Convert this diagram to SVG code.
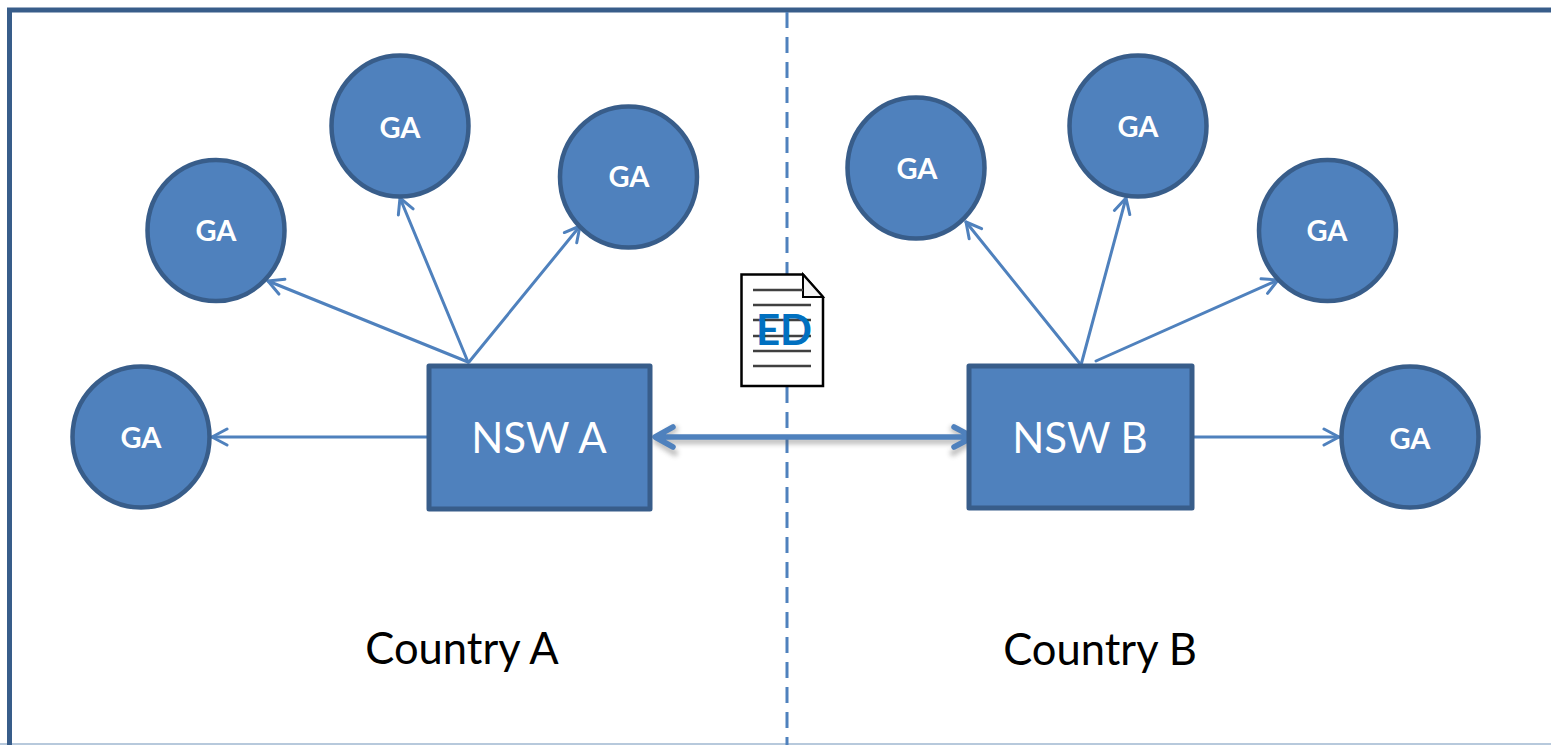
<svg xmlns="http://www.w3.org/2000/svg" width="1551" height="745" viewBox="0 0 1551 745">
<style>
.ga ellipse{fill:#4f81bd;stroke:#385d8a;stroke-width:4.500;}
.ga text{fill:#fff;font:bold 29px Lato,"Open Sans",sans-serif;text-anchor:middle}
.nsw rect{fill:#4f81bd;stroke:#385d8a;stroke-width:5;stroke-linejoin:round}
.nsw text{fill:#fff;font:42px Lato,"Open Sans",sans-serif;text-anchor:middle}
.lbl{fill:#000;font:43.500px Lato,"Open Sans",sans-serif;text-anchor:middle}
.thin{fill:none;stroke:#4f81bd;stroke-width:3;stroke-linecap:round}
.head{fill:none;stroke:#4f81bd;stroke-width:3;stroke-linecap:round;stroke-linejoin:round}
.big{fill:none;stroke:#4f81bd;stroke-width:5.500;stroke-linecap:round;stroke-linejoin:round}
.shadow{fill:none;stroke:#555;stroke-width:6;stroke-linecap:round;stroke-linejoin:round;opacity:.4;filter:url(#blur)}
.rule{stroke:#404040;stroke-width:2.400}
</style>
<defs>
<filter id="blur" x="-10%" y="-100%" width="120%" height="300%"><feGaussianBlur stdDeviation="2.500"/></filter>
<marker id="open" viewBox="-17 -10 19 20" refX="0" refY="0" markerWidth="19" markerHeight="20" markerUnits="userSpaceOnUse" orient="auto"><path class="head" d="M-15-8 0 0-15 8"/></marker>
</defs>
<rect width="1551" height="745" fill="#fff"/>
<path d="M0 744H1551" stroke="#b7c9dc" stroke-width="2"/>
<path d="M9.500 745V10H1551" fill="none" stroke="#385d8a" stroke-width="5"/>
<path d="M787 12V745" fill="none" stroke="#4f81bd" stroke-width="3" stroke-dasharray="16 9"/>
<g id="connectors">
<line class="thin" x1="427" y1="437" x2="212" y2="437" marker-end="url(#open)"/>
<line class="thin" x1="468" y1="362" x2="268" y2="281" marker-end="url(#open)"/>
<line class="thin" x1="468" y1="362" x2="400" y2="198" marker-end="url(#open)"/>
<line class="thin" x1="469" y1="362" x2="580" y2="226" marker-end="url(#open)"/>
<line class="thin" x1="1081" y1="365" x2="966" y2="222" marker-end="url(#open)"/>
<line class="thin" x1="1081" y1="365" x2="1126" y2="198" marker-end="url(#open)"/>
<line class="thin" x1="1096" y1="361" x2="1278" y2="280" marker-end="url(#open)"/>
<line class="thin" x1="1192" y1="437" x2="1339" y2="437" marker-end="url(#open)"/>
<path class="shadow" d="M656 441H972M675 429 656 441 675 453M953 429 972 441 953 453"/>
<path class="big" d="M656 437H972M673 427 655 437 673 447M954 427 973 437 954 447"/>
</g>
<g id="ga-a1" class="ga"><ellipse cx="141" cy="437" rx="68.500" ry="70.500"/><text x="141" y="448">GA</text></g>
<g id="ga-a2" class="ga"><ellipse cx="216" cy="230.500" rx="68.500" ry="70.500"/><text x="216" y="241">GA</text></g>
<g id="ga-a3" class="ga"><ellipse cx="400" cy="126" rx="68.500" ry="70.500"/><text x="400" y="138">GA</text></g>
<g id="ga-a4" class="ga"><ellipse cx="628.500" cy="177" rx="68.500" ry="70.500"/><text x="629" y="187">GA</text></g>
<g id="ga-b1" class="ga"><ellipse cx="916" cy="168" rx="68.500" ry="70.500"/><text x="917" y="179">GA</text></g>
<g id="ga-b2" class="ga"><ellipse cx="1138" cy="126" rx="68.500" ry="70.500"/><text x="1138" y="137">GA</text></g>
<g id="ga-b3" class="ga"><ellipse cx="1327.500" cy="230.500" rx="68.500" ry="70.500"/><text x="1327" y="241">GA</text></g>
<g id="ga-b4" class="ga"><ellipse cx="1410" cy="437" rx="68.500" ry="70.500"/><text x="1410" y="449">GA</text></g>
<g id="nsw-a" class="nsw"><rect x="429" y="366" width="221" height="143"/><text x="539" y="453">NSW A</text></g>
<g id="nsw-b" class="nsw"><rect x="969" y="366" width="223" height="142"/><text x="1080" y="453">NSW B</text></g>
<g id="doc">
<path d="M741.500 274.500H803L823 297V386H741.500Z" fill="#fff" stroke="#000" stroke-width="2.500"/>
<path d="M803 274.500V297H823Z" fill="#f4f4f4" stroke="#000" stroke-width="2"/>
<path class="rule" d="M753 290H803M753 305H811M753 320H811M753 336H811M753 351H811M753 366H811"/>
<text x="784" y="345" fill="#0070c0" font-family="Lato,'Open Sans',sans-serif" font-size="42" font-weight="bold" text-anchor="middle">ED</text>
</g>
<text class="lbl" x="462" y="664">Country A</text>
<text class="lbl" x="1100" y="665">Country B</text>
</svg>
